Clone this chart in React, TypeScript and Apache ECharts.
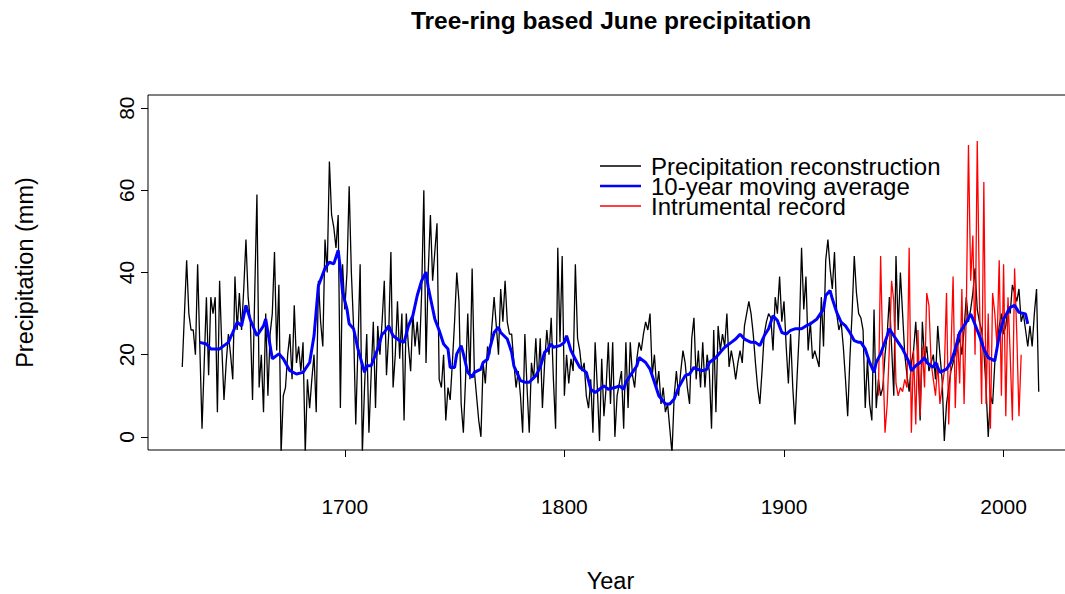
import React, { useEffect, useRef } from 'react';
import * as echarts from 'echarts';

const FONT = '"Liberation Sans", Arial, Helvetica, sans-serif';

// Annual tree-ring reconstruction of June precipitation (mm), 1626-2016
const reconStartYear = 1626;
const reconstruction = [
  17, 30, 43, 30,
  26, 26, 20, 42, 22, 2, 18, 34, 15, 34,
  30, 34, 6, 38, 22, 9, 18, 25, 20, 14,
  39, 26, 35, 26, 36, 48, 34, 28, 9, 35,
  59, 12, 20, 6, 30, 10, 25, 30, 45, 21,
  37, -4, 10, 12, 20, 25, 14, 32, 18, 22,
  16, 23, -4, 14, 7, 14, 20, 6, 38, 28,
  22, 48, 40, 67, 54, 51, 46, 54, 7, 42,
  31, 40, 61, 40, 27, 3, 22, 42, -4, 12,
  25, 1, 15, 28, 7, 27, 20, 28, 38, 15,
  25, 45, 12, 20, 33, 19, 30, 4, 30, 22,
  16, 30, 22, 28, 20, 35, 60, 18, 40, 54,
  38, 45, 52, 14, 12, 20, 4, 12, 9, 18,
  28, 40, 33, 8, 1, 14, 30, 14, 41, 16,
  10, 4, 0, 18, 13, 22, 20, 27, 34, 27,
  20, 36, 28, 38, 28, 25, 25, 18, 12, 16,
  10, 1, 25, 12, 1, 18, 14, 24, 13, 24,
  7, 18, 26, 20, 29, 14, 2, 46, 23, 44,
  10, 20, 13, 19, 16, 42, 24, 21, 16, 18,
  10, 7, 14, 1, 23, 12, -1, 19, 5, 12,
  23, 8, 23, 0, 10, 13, 16, 2, 23, 7,
  23, 15, 12, 19, 23, 21, 25, 28, 26, 30,
  15, 20, 12, 16, 8, 12, 6, 8, 2, -4,
  10, 16, 10, 16, 21, 18, 12, 8, 24, 29,
  14, 21, 12, 23, 12, 20, 16, 2, 26, 6,
  27, 21, 25, 22, 30, 17, 21, 18, 14, 18,
  21, 18, 27, 30, 33, 30, 25, 18, 12, 8,
  16, 25, 28, 30, 29, 21, 34, 30, 39, 28,
  33, 22, 13, 25, 12, 3, 15, 26, 46, 31,
  39, 21, 28, 19, 21, 19, 17, 34, 22, 43,
  48, 41, 36, 45, 30, 26, 28, 22, 14, 5,
  19, 30, 44, 35, 30, 29, 26, 7, 19, 8,
  4, 31, 7, 14, 10, 12, 20, 25, 34, 22,
  10, 44, 26, 40, 30, 20, 15, 11, 18, 21,
  28, 18, 4, 28, 19, 22, 16, 18, 20, 14,
  27, 20, 14, -1, 8, 12, 16, 18, 20, 22,
  24, 20, 26, 34, 28, 31, 35, 41, 31, 28,
  26, 21, 12, 0, 10, 8, 18, 22, 27, 30,
  25, 27, 32, 30, 37, 35, 33, 36, 28, 30,
  26, 22, 27, 22, 30, 36, 11,
];

// Instrumental June precipitation (mm), 1943-2008
const instrStartYear = 1943;
const instrumental = [
  10, 44, 20, 1, 8, 22, 38,
  33, 13, 10, 12, 11, 14, 12, 46, 1, 21,
  3, 26, 5, 22, 12, 35, 32, 18, 14, 10,
  18, 8, 12, 16, 35, 3, 20, 39, 7, 25,
  13, 36, 8, 30, 71, 38, 49, 20, 72, 34,
  8, 62, 8, 30, 2, 35, 30, 22, 43, 10,
  42, 5, 34, 20, 4, 41, 25, 5, 20,
];

// 10-year moving average of the reconstruction
const maYears = [
  1634, 1637, 1639, 1643, 1647, 1649, 1651, 1653, 1655, 1657,
  1660, 1663, 1664, 1667, 1670, 1672, 1675, 1678, 1681, 1684,
  1686, 1688, 1691, 1693, 1695, 1697, 1698, 1699, 1701, 1702,
  1704, 1706, 1709, 1710, 1712, 1715, 1717, 1718, 1720, 1722,
  1725, 1727, 1729, 1731, 1733, 1735, 1737, 1738, 1741, 1743,
  1745, 1747, 1748, 1750, 1751, 1753, 1754, 1756, 1758, 1759,
  1762, 1763, 1765, 1766, 1768, 1770, 1771, 1774, 1776, 1777,
  1780, 1782, 1784, 1787, 1789, 1791, 1792, 1794, 1795, 1798,
  1800, 1801, 1803, 1805, 1807, 1810, 1812, 1814, 1816, 1818,
  1820, 1823, 1825, 1827, 1828, 1830, 1833, 1834, 1837, 1839,
  1841, 1843, 1846, 1848, 1850, 1852, 1855, 1857, 1859, 1860,
  1863, 1865, 1866, 1869, 1871, 1873, 1876, 1878, 1880, 1882,
  1885, 1887, 1889, 1891, 1893, 1895, 1897, 1899, 1901, 1903,
  1905, 1908, 1910, 1912, 1915, 1916, 1918, 1919, 1921, 1922,
  1924, 1926, 1928, 1930, 1932, 1934, 1935, 1937, 1939, 1941,
  1942, 1944, 1947, 1948, 1950, 1952, 1954, 1957, 1958, 1960,
  1962, 1964, 1965, 1968, 1969, 1971, 1974, 1976, 1978, 1980,
  1983, 1985, 1986, 1989, 1991, 1993, 1996, 1998, 2000, 2003,
  2005, 2007, 2010, 2011,
];
const maValues = [
  23, 22.6, 21.4, 21.4, 23, 25.4, 27.9, 27, 32, 28.5,
  24.6, 27, 28.7, 19, 20.2, 19, 16.1, 15.3, 15.7, 18.1,
  24.6, 36.8, 41, 42.5, 42.1, 45.4, 40.9, 35.2, 31.1, 27.5,
  26.3, 21.4, 15.7, 17.3, 17.3, 21.4, 25, 25.4, 27, 24.6,
  23.4, 23, 27, 29.5, 34.4, 38, 40.1, 36.4, 28.7, 25.9,
  22.6, 21.4, 16.9, 16.9, 20.2, 22.2, 20.2, 15.7, 14.5, 15.7,
  16.5, 18.1, 18.9, 21.4, 25.4, 26.7, 25.4, 23.8, 20.6, 17.3,
  13.7, 13.3, 13.3, 14.9, 16.9, 20.6, 21, 22.6, 21.8, 22.2,
  23, 24.6, 21, 18.9, 16.9, 15.7, 11.6, 10.8, 11.6, 12.4,
  11.6, 12, 12.4, 11.6, 13.3, 14.9, 17.3, 19.3, 18.1, 16.5,
  13.3, 10, 8, 8, 9.2, 12, 14.9, 15.3, 16.9, 16.5,
  16.1, 16.5, 18.1, 19.3, 20.6, 21.8, 23, 23.8, 25, 23.8,
  23, 23, 22.2, 24.6, 26.3, 29.5, 28.3, 25.4, 25, 25.9,
  26.3, 26.3, 27, 27.5, 28.7, 29.5, 31.1, 34.4, 35.6, 33.6,
  30.3, 27.9, 27, 25.4, 23.4, 23, 23, 21.4, 18.1, 15.7,
  18.1, 20.2, 24.6, 26.3, 24.6, 23, 21.4, 18.1, 16.1, 17.3,
  18.1, 19.3, 18.1, 16.9, 18.1, 15.7, 16.5, 18.1, 21.4, 25.4,
  27.9, 29.9, 28.7, 24.6, 21.4, 19.3, 18.5, 24.6, 28.7, 31.5,
  32, 30.3, 29.9, 27.5,
];

const xTicks = [1700, 1800, 1900, 2000];
const yTicks = [0, 20, 40, 60, 80];

const legendItems = [
  { label: 'Precipitation reconstruction', color: '#000000', width: 1.5 },
  { label: '10-year moving average', color: '#0000ff', width: 2.5 },
  { label: 'Intrumental record', color: '#ff0000', width: 1.5 },
];

const reconData = reconstruction.map((v, i) => [reconStartYear + i, v]);
const instrData = instrumental.map((v, i) => [instrStartYear + i, v]);
const maData = maYears.map((y, i) => [y, maValues[i]]);

function buildOption(): echarts.EChartsOption {
  const legendGraphics: any[] = [];
  legendItems.forEach((item, i) => {
    const y = 166 + i * 20;
    legendGraphics.push({
      type: 'line',
      shape: { x1: 600, y1: y, x2: 641, y2: y },
      style: { stroke: item.color, lineWidth: item.width },
      silent: true,
    });
    legendGraphics.push({
      type: 'text',
      x: 651,
      y,
      style: {
        text: item.label,
        font: `24px ${FONT}`,
        fill: '#000',
        verticalAlign: 'middle',
        align: 'left',
      },
      silent: true,
    });
  });

  return {
    animation: false,
    backgroundColor: '#ffffff',
    textStyle: { fontFamily: FONT, color: '#000' },
    title: {
      text: 'Tree-ring based June precipitation',
      left: 611,
      top: 8,
      textAlign: 'center',
      padding: 0,
      textStyle: { fontSize: 24.5, fontWeight: 'bold', color: '#000', fontFamily: FONT },
    },
    grid: {
      left: 148,
      top: 95,
      width: 925,
      height: 355,
      show: true,
      borderColor: '#000',
      borderWidth: 1,
      backgroundColor: 'transparent',
      containLabel: false,
      outerBoundsMode: 'none',
    } as any,
    xAxis: {
      type: 'value',
      min: 1610.4,
      max: 2031.6,
      name: 'Year',
      nameLocation: 'middle',
      nameGap: 119,
      nameTextStyle: { fontSize: 23.5, color: '#000', fontFamily: FONT },
      axisLine: { show: false, onZero: false },
      splitLine: { show: false },
      axisTick: {
        show: true,
        inside: false,
        length: 7,
        customValues: xTicks,
        lineStyle: { color: '#000', width: 1 },
      },
      axisLabel: {
        show: true,
        customValues: xTicks,
        formatter: (v: number) => String(v),
        margin: 46,
        fontSize: 21,
        color: '#000',
        fontFamily: FONT,
      },
    } as any,
    yAxis: {
      type: 'value',
      min: -3.2,
      max: 83.2,
      name: 'Precipitation (mm)',
      nameLocation: 'middle',
      nameGap: 111,
      nameTextStyle: { fontSize: 23.5, color: '#000', fontFamily: FONT },
      axisLine: { show: false, onZero: false },
      splitLine: { show: false },
      axisTick: {
        show: true,
        inside: false,
        length: 7,
        customValues: yTicks,
        lineStyle: { color: '#000', width: 1 },
      },
      axisLabel: {
        show: true,
        customValues: yTicks,
        formatter: (v: number) => String(v),
        rotate: 90,
        margin: 11,
        fontSize: 21,
        color: '#000',
        fontFamily: FONT,
      },
    } as any,
    series: [
      {
        name: 'Precipitation reconstruction',
        type: 'line',
        data: reconData,
        showSymbol: false,
        symbol: 'none',
        clip: true,
        lineStyle: { color: '#000000', width: 1.3 },
        itemStyle: { color: '#000000' },
        z: 2,
        silent: true,
      },
      {
        name: 'Intrumental record',
        type: 'line',
        data: instrData,
        showSymbol: false,
        symbol: 'none',
        clip: true,
        lineStyle: { color: '#ff0000', width: 1.3 },
        itemStyle: { color: '#ff0000' },
        z: 3,
        silent: true,
      },
      {
        name: '10-year moving average',
        type: 'line',
        data: maData,
        showSymbol: false,
        symbol: 'none',
        clip: true,
        lineStyle: { color: '#0000ff', width: 3 },
        itemStyle: { color: '#0000ff' },
        z: 4,
        silent: true,
      },
    ],
    graphic: legendGraphics,
  };
}

export default function App() {
  const ref = useRef<HTMLDivElement>(null);
  useEffect(() => {
    if (!ref.current) return;
    const chart = echarts.init(ref.current, null, { renderer: 'svg' });
    chart.setOption(buildOption());
    return () => {
      chart.dispose();
    };
  }, []);
  return (
    <div
      ref={ref}
      style={{ position: 'fixed', left: 0, top: 0, width: 1065, height: 594, background: '#fff' }}
    />
  );
}
